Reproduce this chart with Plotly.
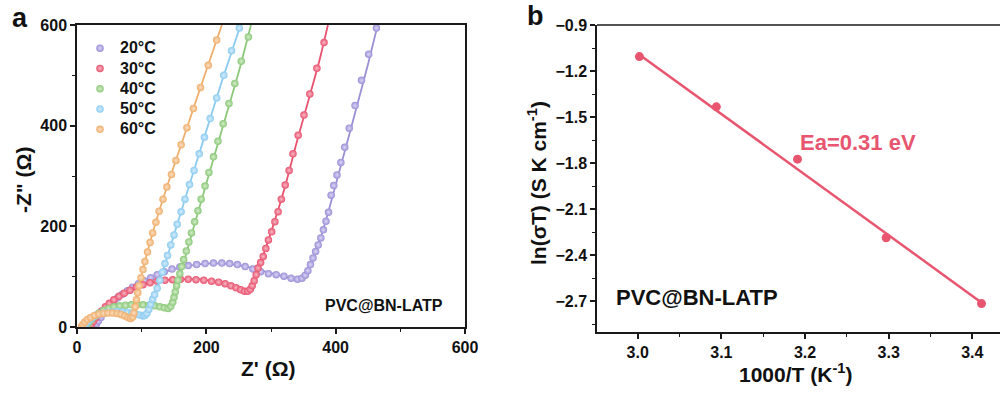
import plotly.graph_objects as go

FONT = "Arial, 'Liberation Sans', Helvetica, sans-serif"

# ---------------- Panel a: Nyquist plots ----------------
temps = ["20°C", "30°C", "40°C", "50°C", "60°C"]
colors = ["#9B8FD6", "#E8526E", "#8CC87A", "#8CCBF0", "#EFAE6C"]
highlights = ["#DCD6F5", "#F7BAC6", "#D3EDC9", "#D6EEFB", "#FAE0C4"]

# measured points (Z', -Z'')
z20_x = [28, 30, 33, 37, 41, 46, 51, 57, 63, 70, 78, 86, 95, 104, 114, 124, 135, 147, 159, 172,
         185, 198, 211, 224, 236, 248, 260, 272, 284, 296, 308, 320, 331, 341, 348, 353, 357, 361,
         365, 369, 373, 377, 381, 385, 389, 393, 397, 402, 408, 414, 421, 430, 440, 451, 463]
z20_y = [2, 6, 12, 19, 27, 35, 43, 51, 58, 65, 72, 79, 86, 92, 98, 104, 110, 115, 119, 122,
         124, 126, 127, 127, 126, 124, 120, 115, 110, 106, 104, 101, 97, 95, 97, 103, 112, 124,
         137, 150, 163, 177, 193, 210, 228, 262, 281, 302, 327, 357, 395, 440, 490, 542, 594]

z30_x = [20, 22, 25, 29, 33, 38, 44, 50, 57, 65, 73, 82, 92, 102, 113, 124, 136, 148, 160, 172,
         184, 196, 208, 219, 229, 238, 246, 253, 259, 264, 268, 271, 274, 277, 280, 284, 288, 292,
         296, 301, 306, 311, 316, 322, 328, 334, 342, 351, 360, 371, 382]
z30_y = [1, 5, 11, 18, 25, 32, 40, 47, 54, 61, 67, 73, 79, 84, 88, 91, 93, 94, 95, 95,
         94, 93, 91, 89, 86, 82, 78, 74, 71, 71, 75, 82, 92, 104, 117, 128, 140, 156,
         173, 189, 209, 229, 254, 282, 311, 344, 381, 421, 463, 514, 565]

z40_x = [14, 16, 19, 23, 28, 34, 41, 49, 57, 66, 75, 84, 93, 102, 111, 120, 128, 135, 141, 145,
         148, 150, 152, 154, 156, 159, 162, 165, 169, 173, 177, 182, 187, 192, 198, 204, 211, 218,
         226, 235, 244, 254, 265]
z40_y = [1, 5, 10, 16, 22, 28, 33, 37, 40, 42, 43, 44, 44, 44, 43, 42, 40, 38, 37, 41,
         49, 59, 70, 82, 93, 106, 120, 134, 151, 169, 187, 209, 231, 254, 280, 307, 338, 369,
         404, 444, 484, 528, 576]

z50_x = [11, 13, 16, 20, 25, 31, 38, 46, 54, 62, 70, 78, 85, 91, 97, 102, 105, 108, 111, 114,
         117, 120, 124, 128, 132, 136, 140, 145, 150, 155, 161, 167, 174, 181, 189, 197, 206, 216,
         227, 239, 251]
z50_y = [1, 5, 10, 15, 20, 24, 27, 29, 30, 31, 30, 29, 28, 26, 24, 22, 23, 27, 35, 45,
         55, 64, 77, 93, 109, 126, 142, 163, 183, 204, 229, 254, 283, 311, 344, 377, 414, 455,
         500, 549, 594]

z60_x = [7, 9, 12, 16, 21, 27, 34, 41, 48, 55, 62, 68, 74, 79, 83, 86, 88, 90, 92, 94,
         96, 99, 102, 105, 109, 113, 117, 122, 127, 133, 139, 146, 153, 161, 170, 180, 191, 203, 216]
z60_y = [1, 5, 10, 15, 19, 23, 26, 27, 28, 28, 27, 25, 22, 19, 17, 20, 28, 40, 54, 68,
         82, 98, 114, 130, 149, 168, 187, 208, 230, 254, 278, 303, 331, 362, 396, 434, 476, 520, 570]

# fitted curves (Z', -Z'')
f20_x = [27, 35, 45, 60, 80, 100, 125, 150, 175, 200, 225, 250, 275, 300, 320, 335, 345, 352,
         358, 365, 375, 390, 410, 430, 450, 465]
f20_y = [0, 16, 34, 55, 74, 89, 104, 115, 122, 126, 126, 123, 116, 107, 101, 97, 96, 100,
         112, 135, 170, 235, 330, 425, 522, 600]
f30_x = [19, 28, 40, 55, 75, 100, 125, 150, 175, 200, 225, 245, 258, 265, 270, 276, 285, 300,
         320, 340, 360, 375, 388]
f30_y = [0, 17, 35, 52, 69, 83, 91, 94, 95, 93, 87, 79, 72, 72, 79, 98, 132, 188,
         271, 368, 460, 530, 600]
f40_x = [13, 20, 30, 45, 65, 90, 115, 130, 140, 146, 150, 155, 165, 180, 200, 225, 250, 269]
f40_y = [0, 12, 24, 35, 42, 44, 43, 40, 37, 39, 50, 78, 128, 196, 285, 396, 506, 600]
f50_x = [10, 18, 30, 50, 70, 88, 100, 106, 112, 120, 130, 150, 175, 200, 225, 253]
f50_y = [0, 13, 23, 30, 30, 27, 22, 23, 37, 65, 100, 183, 287, 390, 492, 600]
f60_x = [6, 12, 22, 35, 50, 65, 76, 83, 87, 91, 96, 105, 120, 140, 160, 180, 200, 224]
f60_y = [0, 10, 20, 26, 28, 26, 21, 17, 22, 45, 82, 130, 200, 282, 358, 434, 510, 600]

data_x = [z20_x, z30_x, z40_x, z50_x, z60_x]
data_y = [z20_y, z30_y, z40_y, z50_y, z60_y]
fit_x = [f20_x, f30_x, f40_x, f50_x, f60_x]
fit_y = [f20_y, f30_y, f40_y, f50_y, f60_y]

# ---------------- Panel b: Arrhenius plot ----------------
inv_T = [3.002, 3.094, 3.191, 3.297, 3.411]
ln_sigmaT = [-1.106, -1.433, -1.774, -2.286, -2.715]
fitb_x = [3.0, 3.412]
fitb_y = [-1.085, -2.712]
pink = "#E8556F"

fig = go.Figure()

for i in range(5):
    fig.add_trace(go.Scatter(
        x=fit_x[i], y=fit_y[i], mode="lines", line=dict(color=colors[i], width=1.8, shape="spline", smoothing=0.6),
        showlegend=False, hoverinfo="skip", xaxis="x", yaxis="y"))
    fig.add_trace(go.Scatter(
        x=data_x[i], y=data_y[i], mode="markers",
        name='<span style="font-size:16px">' + temps[i] + '</span>',
        marker=dict(size=7.5, color=colors[i], line=dict(width=0),
                    gradient=dict(type="radial", color=highlights[i])),
        xaxis="x", yaxis="y"))

fig.add_trace(go.Scatter(x=fitb_x, y=fitb_y, mode="lines", line=dict(color=pink, width=2.5),
                         showlegend=False, xaxis="x2", yaxis="y2"))
fig.add_trace(go.Scatter(x=inv_T, y=ln_sigmaT, mode="markers", marker=dict(size=9, color=pink),
                         showlegend=False, xaxis="x2", yaxis="y2"))

W, H = 1000, 394
axis_common = dict(showline=True, linewidth=1.5, linecolor="#1a1a1a", ticks="outside", ticklen=5,
                   tickwidth=1.5, tickcolor="#1a1a1a", showgrid=False, zeroline=False, automargin=False,
                   tickfont=dict(family=FONT, size=16, color="#111", weight="bold"))
minor_style = dict(ticks="outside", ticklen=3, tickwidth=1.2, tickcolor="#1a1a1a", showgrid=False)

fig.update_layout(
    width=W, height=H, margin=dict(l=0, r=0, t=0, b=0, autoexpand=False),
    paper_bgcolor="white", plot_bgcolor="white",
    font=dict(family=FONT, color="#111", weight="bold"),
    xaxis=dict(domain=[77 / W, 465 / W], range=[0, 600], dtick=200, tick0=0, mirror=True,
               minor=dict(dtick=100, **minor_style), anchor="y", **axis_common),
    yaxis=dict(domain=[1 - 327 / H, 1 - 25 / H], range=[0, 600], dtick=200, tick0=0, mirror=True,
               minor=dict(dtick=100, **minor_style), anchor="x", **axis_common),
    xaxis2=dict(domain=[597 / W, 1.0], range=[2.9513, 3.4331], dtick=0.1, tick0=3.0, tickformat=".1f",
                minor=dict(dtick=0.05, **minor_style), anchor="y2", **axis_common),
    yaxis2=dict(domain=[1 - 332 / H, 1 - 25 / H], range=[-2.9, -0.9], dtick=0.3, tick0=-0.9, tickformat=".1f",
                minor=dict(dtick=0.15, **minor_style), anchor="x2", **axis_common),
    legend=dict(x=80 / W, y=1 - 33 / H, xanchor="left", yanchor="top", bgcolor="rgba(0,0,0,0)",
                font=dict(family=FONT, size=13.3, color="#111", weight="bold"), itemwidth=30),
    showlegend=True,
)

# top border of panel b (right border lies outside the picture)
fig.add_shape(type="line", xref="x2 domain", yref="y2 domain", x0=0, x1=1, y0=1, y1=1,
              line=dict(color="#1a1a1a", width=1.5))

def ann(text, x, y, size, color="#111", angle=0, xanchor="center"):
    fig.add_annotation(text=text, x=x / W, y=1 - y / H, xref="paper", yref="paper", showarrow=False,
                       font=dict(family=FONT, size=size, color=color, weight="bold"),
                       textangle=angle, xanchor=xanchor, yanchor="middle")

ann("a", 20, 18, 27)
ann("b", 535, 16, 27)
ann('-Z" (Ω)', 23, 180, 21, angle=-90)
ann("Z' (Ω)", 268, 368, 21)
ann("ln(σT) (S K cm<sup>-1</sup>)", 537, 183, 21, angle=-90)
ann("1000/T (K<sup>-1</sup>)", 795, 373, 21)
ann("PVC@BN-LATP", 384, 305, 16)
ann("PVC@BN-LATP", 614, 297, 22, xanchor="left")
ann("Ea=0.31 eV", 798, 143, 22, color=pink, xanchor="left")

fig.write_html("out.html", config={"displayModeBar": False},
               post_script="document.body.style.margin='0px';document.body.style.overflow='hidden';")
